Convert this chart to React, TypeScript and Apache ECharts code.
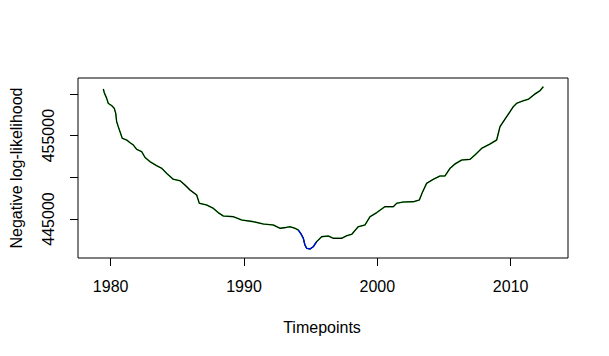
import React, { useEffect, useRef } from "react";
import * as echarts from "echarts";

const years = [
  1979.45, 1979.52, 1979.7, 1979.82, 1980.08, 1980.27, 1980.38, 1980.45, 1980.57, 1980.7,
  1980.87, 1981.2, 1981.45, 1981.7, 1981.95, 1982.33, 1982.57, 1982.95, 1983.45, 1983.83,
  1984.2, 1984.7, 1985.2, 1985.57, 1985.95, 1986.45, 1986.65, 1987.2, 1987.7, 1988.07,
  1988.45, 1989.2, 1989.83, 1990.7, 1991.45, 1992.2, 1992.7, 1993.2, 1993.45, 1993.82,
  1994.07, 1994.25, 1994.45, 1994.57, 1994.7, 1994.95, 1995.2, 1995.45, 1995.83, 1996.32,
  1996.7, 1997.33, 1997.7, 1998.08, 1998.57, 1999.07, 1999.45, 1999.95, 2000.57, 2001.2,
  2001.45, 2001.95, 2002.7, 2003.15, 2003.4, 2003.7, 2004.2, 2004.7, 2005.07, 2005.45,
  2005.82, 2006.33, 2006.95, 2007.45, 2007.83, 2008.45, 2008.95, 2009.2, 2009.7, 2010.2,
  2010.45, 2010.95, 2011.32, 2011.82, 2012.2, 2012.45,
];

const nll = [
  460600, 460160, 459480, 458880, 458600, 458280, 457680, 456680, 456080, 455480,
  454680, 454480, 454160, 453880, 453360, 453080, 452400, 451880, 451400, 451080,
  450480, 449760, 449600, 449080, 448480, 447880, 446880, 446680, 446280, 445760,
  445360, 445280, 444880, 444680, 444400, 444280, 443880, 444000, 444080, 443880,
  443680, 443280, 442680, 441880, 441480, 441400, 441680, 442280, 442880, 442960,
  442680, 442680, 443000, 443160, 444080, 444280, 445280, 445760, 446480, 446480,
  446880, 447040, 447080, 447280, 448280, 449280, 449760, 450160, 450160, 451080,
  451600, 452080, 452160, 452880, 453480, 454000, 454480, 456080, 457280, 458480,
  458880, 459200, 459360, 460000, 460400, 460880,
];

// blue segment around the minimum
const blueStart = 1994.07;
const blueEnd = 1995.45;

const xTicks = [1980, 1990, 2000, 2010];
const yTicks = [445000, 450000, 455000, 460000];
const yLabels = [445000, 455000];

export default function App() {
  const ref = useRef<HTMLDivElement>(null);
  useEffect(() => {
    document.body.style.margin = "0";
    const chart = echarts.init(ref.current!, null, { renderer: "svg" });
    const main = years.map((y, i) => [y, nll[i]]);
    const blue = main.filter((p) => p[0] >= blueStart && p[0] <= blueEnd);
    const font = "Liberation Sans, Arial, sans-serif";
    chart.setOption({
      animation: false,
      backgroundColor: "#ffffff",
      grid: {
        left: 78,
        top: 78,
        width: 490,
        height: 180,
        show: true,
        borderColor: "#000",
        borderWidth: 1,
        backgroundColor: "transparent",
      },
      xAxis: {
        type: "value",
        min: 1977.55,
        max: 2014.3,
        splitLine: { show: false },
        axisLine: { show: false },
        axisTick: {
          show: true,
          length: 8,
          customValues: xTicks,
          lineStyle: { color: "#000", width: 1 },
        },
        axisLabel: {
          customValues: xTicks,
          formatter: (v: number) => String(v),
          color: "#000",
          fontFamily: font,
          fontSize: 16,
          margin: 20,
        },
      },
      yAxis: {
        type: "value",
        min: 440320,
        max: 461920,
        splitLine: { show: false },
        axisLine: { show: false },
        axisTick: {
          show: true,
          length: 8,
          customValues: yTicks,
          lineStyle: { color: "#000", width: 1 },
        },
        axisLabel: {
          customValues: yLabels,
          formatter: (v: number) => String(v),
          rotate: 90,
          color: "#000",
          fontFamily: font,
          fontSize: 16,
          margin: 22,
        },
      },
      graphic: [
        {
          type: "text",
          x: 322,
          y: 327,
          style: {
            text: "Timepoints",
            fill: "#000",
            font: `16px ${font}`,
            textAlign: "center",
            textVerticalAlign: "middle",
          },
        },
        {
          type: "text",
          x: 16,
          y: 168,
          rotation: Math.PI / 2,
          style: {
            text: "Negative log-likelihood",
            fill: "#000",
            font: `16px ${font}`,
            textAlign: "center",
            textVerticalAlign: "middle",
          },
        },
      ],
      series: [
        {
          type: "line",
          data: main,
          showSymbol: false,
          lineStyle: { color: "#22dd22", width: 1.5 },
          z: 1,
        },
        {
          type: "line",
          data: main,
          showSymbol: false,
          lineStyle: { color: "#000", width: 1.1 },
          z: 2,
        },
        {
          type: "line",
          data: blue,
          showSymbol: false,
          lineStyle: { color: "#0000ff", width: 1.2 },
          z: 3,
        },
      ],
    });
    return () => chart.dispose();
  }, []);
  return <div ref={ref} style={{ width: 609, height: 356 }} />;
}
